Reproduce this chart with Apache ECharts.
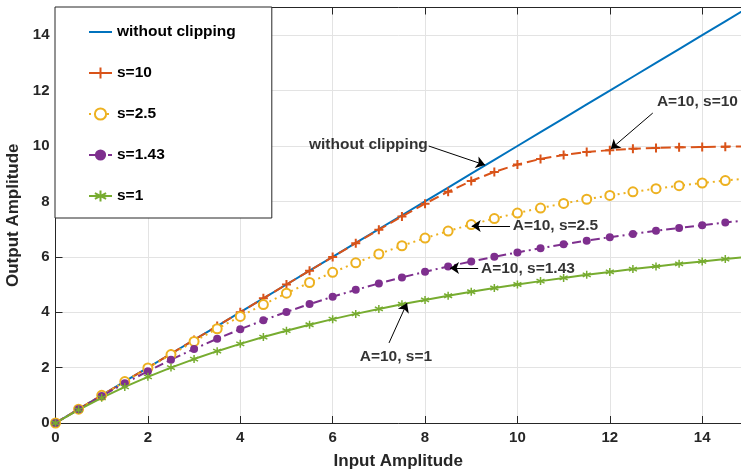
<!DOCTYPE html>
<html>
<head>
<meta charset="utf-8">
<script src="https://cdn.jsdelivr.net/npm/echarts@6/dist/echarts.min.js"></script>
<style>html,body{margin:0;padding:0;background:#fff;}#c{width:741px;height:474px;}</style>
</head>
<body>
<div id="c"></div>
<script>
var inputAmp = [0,0.5,1,1.5,2,2.5,3,3.5,4,4.5,5,5.5,6,6.5,7,7.5,8,8.5,9,9.5,10,10.5,11,11.5,12,12.5,13,13.5,14,14.5,15];
var noClip = [0,0.5,1,1.5,2,2.5,3,3.5,4,4.5,5,5.5,6,6.5,7,7.5,8,8.5,9,9.5,10,10.5,11,11.5,12,12.5,13,13.5,14,14.5,15];
var s10 = [0,0.5,1,1.5,2,2.5,3,3.5,4,4.5,5.0,5.499,5.996,6.491,6.981,7.459,7.919,8.349,8.735,9.065,9.330,9.533,9.679,9.781,9.851,9.899,9.930,9.952,9.966,9.976,9.983];
var s25 = [0,0.500,0.999,1.495,1.986,2.469,2.943,3.403,3.849,4.277,4.685,5.072,5.438,5.781,6.101,6.399,6.675,6.930,7.165,7.381,7.579,7.760,7.926,8.078,8.217,8.344,8.460,8.567,8.664,8.753,8.835];
var s143 = [0,0.495,0.975,1.434,1.871,2.284,2.674,3.041,3.385,3.707,4.010,4.293,4.558,4.806,5.038,5.256,5.460,5.651,5.831,6.000,6.159,6.308,6.449,6.581,6.707,6.825,6.937,7.042,7.142,7.237,7.327];
var s1 = [0,0.476,0.909,1.304,1.667,2.000,2.308,2.593,2.857,3.103,3.333,3.548,3.750,3.939,4.118,4.286,4.444,4.595,4.737,4.872,5.000,5.122,5.238,5.349,5.455,5.556,5.652,5.745,5.833,5.918,6.000];
var seriesNames = ['without clipping','s=10','s=2.5','s=1.43','s=1'];
var xTicks = [0,2,4,6,8,10,12,14];
var yTicks = [0,2,4,6,8,10,12,14];
// annotations: text, anchor [x,y] in data units, alignment, arrow start, arrow end
var annotText = ['without clipping','A=10, s=10','A=10, s=2.5','A=10, s=1.43','A=10, s=1'];
var annotAt = [[8.06,10.05],[13.02,11.6],[9.90,7.11],[9.21,5.58],[7.37,2.4]];
var annotAlign = ['right','left','left','left','center'];
var arrowFrom = [[8.08,10.0],[12.93,11.19],[9.84,7.11],[9.15,5.6],[7.22,2.89]];
var arrowTo = [[9.30,9.31],[12.02,9.89],[9.01,7.11],[8.54,5.6],[7.61,4.33]];

function pairs(ys){ return inputAmp.map(function(x,i){ return [x, ys[i]]; }); }
var FONT = 'Arial, "Liberation Sans", Helvetica, sans-serif';
var AX = '#262626';
var plusPath = 'path://M0,-1L0,1M-1,0L1,0';
var starPath = 'path://M0,-1L0,1M-0.866,-0.5L0.866,0.5M-0.866,0.5L0.866,-0.5';

var chart = echarts.init(document.getElementById('c'), null, {renderer:'canvas'});
var axisCommon = {
  axisLine:{show:true, onZero:false, lineStyle:{color:AX, width:1}},
  axisTick:{show:true, inside:true, length:7, lineStyle:{color:AX, width:1}}
};
chart.setOption({
  animation:false,
  backgroundColor:'#fff',
  grid:{left:55.5, top:7.5, right:0, bottom:51, containLabel:false, outerBoundsMode:'none'},
  legend:{
    data:[{name:seriesNames[0], itemStyle:{opacity:0}}].concat(seriesNames.slice(1)),
    orient:'vertical', left:55, top:7,
    backgroundColor:'#fff', borderColor:AX, borderWidth:1, borderRadius:0,
    padding:[17,36,14,33], itemWidth:23, itemHeight:14, itemGap:25,
    textStyle:{fontFamily:FONT, fontWeight:'bold', fontSize:15.5, color:'#000'},
    selectedMode:false
  },
  xAxis:[
    Object.assign({type:'value', position:'bottom', min:0, max:14.84, interval:2,
      axisLabel:{show:true, showMaxLabel:false, margin:7, fontFamily:FONT, fontWeight:'bold', fontSize:15, color:AX,
        formatter:function(v){ return xTicks.indexOf(v)>=0 ? String(v) : ''; }},
      splitLine:{show:true, lineStyle:{color:'#e3e3e3', width:1}},
      name:'Input Amplitude', nameLocation:'middle', nameGap:30,
      nameTextStyle:{fontFamily:FONT, fontWeight:'bold', fontSize:17, color:AX}}, axisCommon),
    Object.assign({type:'value', position:'top', min:0, max:14.84, interval:2,
      axisLabel:{show:false}, splitLine:{show:false}}, axisCommon)
  ],
  yAxis:[
    Object.assign({type:'value', position:'left', min:0, max:15, interval:2,
      axisLabel:{show:true, showMaxLabel:false, margin:6, fontFamily:FONT, fontWeight:'bold', fontSize:15, color:AX,
        formatter:function(v){ return yTicks.indexOf(v)>=0 ? String(v) : ''; }},
      splitLine:{show:true, lineStyle:{color:'#e3e3e3', width:1}},
      name:'Output Amplitude', nameLocation:'middle', nameGap:30, nameRotate:90,
      nameTextStyle:{fontFamily:FONT, fontWeight:'bold', fontSize:17, color:AX}}, axisCommon)
  ],
  series:[
    {name:seriesNames[0], type:'line', data:pairs(noClip), symbol:'none', clip:true,
      lineStyle:{color:'#0072BD', width:2}, itemStyle:{color:'#0072BD'}},
    {name:seriesNames[1], type:'line', data:pairs(s10), symbol:plusPath, symbolSize:9, clip:true,
      lineStyle:{color:'#D95319', width:2, type:[10,5]},
      itemStyle:{color:'#D95319', borderColor:'#D95319', borderWidth:2}},
    {name:seriesNames[2], type:'line', data:pairs(s25), symbol:'emptyCircle', symbolSize:9, clip:true,
      lineStyle:{color:'#EDB120', width:2, type:[2,4]},
      itemStyle:{color:'#EDB120', borderColor:'#EDB120', borderWidth:2}},
    {name:seriesNames[3], type:'line', data:pairs(s143), symbol:'circle', symbolSize:8, clip:true,
      lineStyle:{color:'#7E2F8E', width:2, type:[9,4,2,4]},
      itemStyle:{color:'#7E2F8E'}},
    {name:seriesNames[4], type:'line', data:pairs(s1), symbol:starPath, symbolSize:8, clip:true,
      lineStyle:{color:'#77AC30', width:2},
      itemStyle:{color:'#77AC30', borderColor:'#77AC30', borderWidth:1.5}},
    {name:'annotations', type:'scatter', symbolSize:0, silent:true, z:5,
      data:annotText.map(function(t,i){ return {value:[annotAt[i][0], annotAt[i][1]], name:t,
        label:{show:true, position:'inside', align:annotAlign[i], verticalAlign:'middle', formatter:t,
          fontFamily:FONT, fontWeight:'bold', fontSize:15.5, color:'#000'}}; }),
      markLine:{silent:true, symbol:['none','arrow'], symbolSize:9, animation:false,
        label:{show:false}, emphasis:{disabled:true},
        lineStyle:{color:'#000', width:1, type:'solid'},
        data:arrowFrom.map(function(f,i){ return [{coord:f},{coord:arrowTo[i]}]; })}
    }
  ]
});
</script>
</body>
</html>
